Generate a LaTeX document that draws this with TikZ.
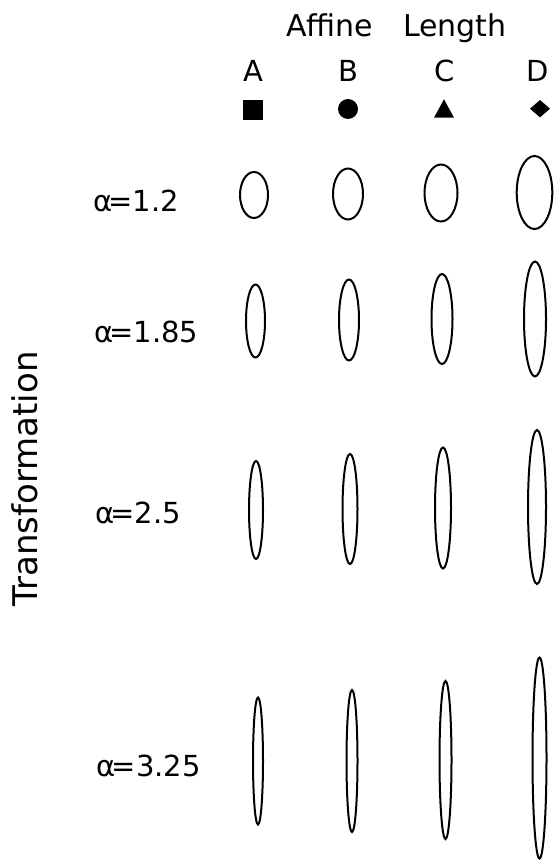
\documentclass[tikz,border=0pt]{standalone}
\usepackage{fontspec}
\setmainfont{DejaVu Sans}
\usetikzlibrary{shapes.geometric}
\tikzset{
  ell/.style={draw=black, line width=2pt, ellipse, inner sep=0pt},
  lab/.style={inner sep=0pt, font=\fontsize{29}{34}\selectfont, anchor=base west},
  head/.style={inner sep=0pt, font=\fontsize{29}{34}\selectfont, anchor=base},
  symb/.style={fill=black, draw=none, inner sep=0pt}
}
\newcommand{\ellnode}[5]{\node[ell, minimum width=#4pt-2pt, minimum height=#5pt-2pt] (#1) at (#2,#3) {};}
\begin{document}
\begin{tikzpicture}[x=1pt,y=-1pt]
\useasboundingbox (0,0) rectangle (557,861);
% headers
\node[inner sep=0pt, font=\fontsize{30}{34}\selectfont, anchor=base west] (affine) at (286,37) {Affine};
\node[inner sep=0pt, font=\fontsize{30}{34}\selectfont, anchor=base west] (length) at (403,37) {Length};
\node[head] (hA) at (253,81.5) {A};
\node[head] (hB) at (348,81.5) {B};
\node[head] (hC) at (445,81.5) {C};
\node[head] (hD) at (537.5,81.5) {D};
% markers
\node[symb, rectangle, minimum width=20pt, minimum height=20pt] (mA) at (253,110) {};
\node[symb, circle, minimum size=20pt] (mB) at (348,109) {};
\coordinate (mC) at (444,108.5);
\fill[black] ([shift={(-10,9.2)}]mC) -- ([shift={(10,9.2)}]mC) -- ([shift={(0,-9.2)}]mC) -- cycle;
\coordinate (mD) at (540,108.7);
\fill[black] ([shift={(-10,0)}]mD) -- ([shift={(0,-8.7)}]mD) -- ([shift={(10,0)}]mD) -- ([shift={(0,8.7)}]mD) -- cycle;
% side title
\node[inner sep=0pt, rotate=90, font=\fontsize{34}{40}\selectfont] (trans) at (25.3,479) {Transformation};
% row labels
\node[lab] (l1) at (93,211) {α\kern-4pt=1.2};
\node[lab] (l2) at (94,342) {α\kern-4pt=1.85};
\node[lab] (l3) at (95,523) {α\kern-4pt=2.5};
\node[lab] (l4) at (96.5,776) {α\kern-4pt=3.25};
% ellipses row 1
\ellnode{e1A}{254}{195}{30}{48}
\ellnode{e1B}{348}{194}{32}{53}
\ellnode{e1C}{441}{193}{35}{59}
\ellnode{e1D}{534.5}{192.5}{37.6}{75}
% row 2
\ellnode{e2A}{255.5}{321}{21}{75}
\ellnode{e2B}{349}{320}{22}{83}
\ellnode{e2C}{442}{319}{23}{92}
\ellnode{e2D}{535}{319}{24}{117}
% row 3
\ellnode{e3A}{256}{510}{16}{100}
\ellnode{e3B}{350}{509}{17}{112}
\ellnode{e3C}{443}{508}{18}{123}
\ellnode{e3D}{537}{507}{20}{156}
% row 4
\ellnode{e4A}{258}{761}{12}{129}
\ellnode{e4B}{352}{761}{13}{144}
\ellnode{e4C}{445.5}{760}{14}{160}
\ellnode{e4D}{539.5}{758}{16}{203}
\end{tikzpicture}
\end{document}
